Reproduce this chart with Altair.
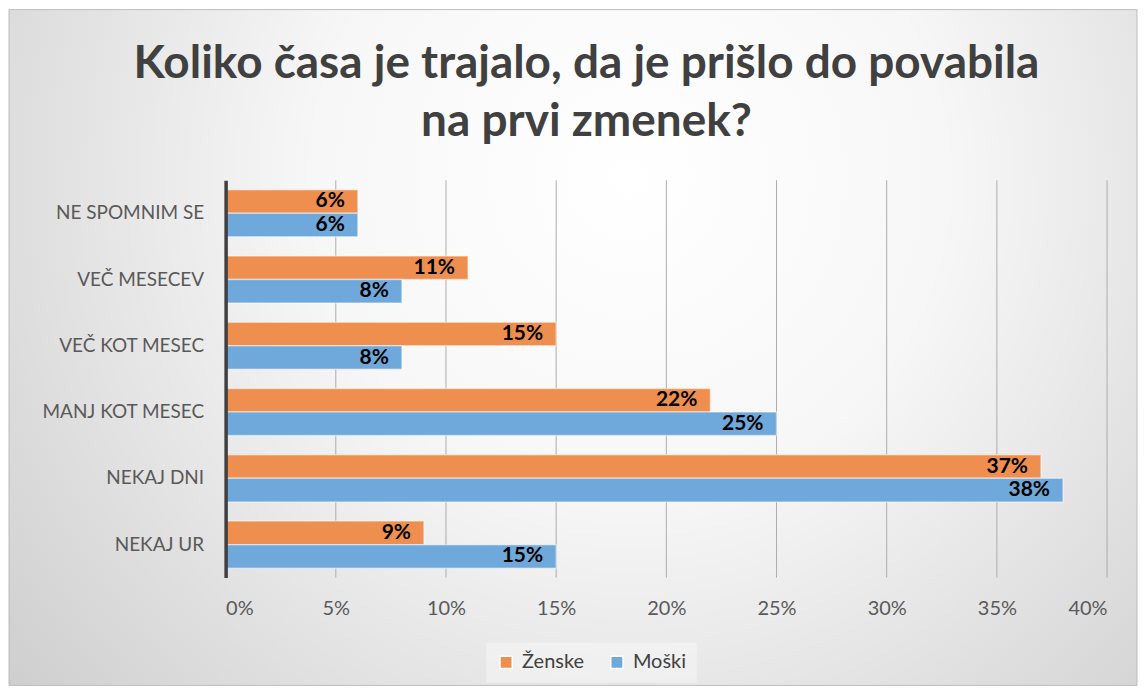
import altair as alt
import pandas as pd

categories = ["NE SPOMNIM SE", "VEČ MESECEV", "VEČ KOT MESEC", "MANJ KOT MESEC", "NEKAJ DNI", "NEKAJ UR"]
series = ["Ženske", "Moški"]
zenske = [6, 11, 15, 22, 37, 9]
moski = [6, 8, 8, 25, 38, 15]
x_ticks = [0, 5, 10, 15, 20, 25, 30, 35, 40]
colors = ["#EF8F4F", "#6FA8DA"]

rows = []
for i, c in enumerate(categories):
    rows.append({"cat": c, "series": series[0], "value": zenske[i]})
    rows.append({"cat": c, "series": series[1], "value": moski[i]})
df = pd.DataFrame(rows)

FONT = "Lato"
W, H = 883, 398

bg = alt.Chart(pd.DataFrame({"a": [0]})).mark_rect(
    fill={
        "gradient": "radial",
        "x1": 0.55, "y1": 0.35, "r1": 0,
        "x2": 0.55, "y2": 0.35, "r2": 0.8,
        "stops": [
            {"offset": 0, "color": "#FFFFFF"},
            {"offset": 0.35, "color": "#F7F7F7"},
            {"offset": 1, "color": "#C6C6C6"},
        ],
    },
    stroke="#BDBDBD",
    strokeWidth=1,
).encode(
    x=alt.value(-217), x2=alt.value(913),
    y=alt.value(-171), y2=alt.value(506),
)

grid = alt.Chart(pd.DataFrame({"t": x_ticks[1:]})).mark_rule(
    color="#ADADAD", strokeWidth=1
).encode(x=alt.X("t:Q", scale=alt.Scale(domain=[0, 40])))

base = alt.Chart(df).encode(
    y=alt.Y("cat:N", sort=categories,
            scale=alt.Scale(paddingInner=0.29, paddingOuter=0.142),
            axis=alt.Axis(title=None, labelFont=FONT, labelFontSize=19, labelColor="#595959",
                          ticks=False, domainColor="#404040", domainWidth=3.5,
                          labelPadding=22, zindex=1, grid=False)),
    yOffset=alt.YOffset("series:N", sort=series),
    x=alt.X("value:Q", scale=alt.Scale(domain=[0, 40]),
            axis=alt.Axis(title=None, values=x_ticks, labelExpr="datum.value + '%'",
                          labelFont=FONT, labelFontSize=20, labelColor="#595959",
                          ticks=False, domain=False, grid=False, labelPadding=21, zindex=1)),
)

bars = base.mark_bar(stroke="#FFFFFF", strokeOpacity=0.45, strokeWidth=1.5).encode(
    color=alt.Color("series:N", sort=series,
                    scale=alt.Scale(domain=series, range=colors),
                    legend=alt.Legend(title=None, orient="none", legendX=261, legendY=463,
                                      direction="horizontal", symbolType="square",
                                      symbolSize=150, labelFont=FONT, labelFontSize=20,
                                      labelColor="#404040", columnPadding=22, labelOffset=6,
                                      padding=10, fillColor="rgba(255,255,255,0.35)",
                                      zindex=1))
)

labels = base.mark_text(align="right", baseline="middle", dx=-13, font=FONT,
                        fontSize=21, fontWeight="bold", color="#000000").encode(
    text=alt.Text("label:N")
).transform_calculate(label="datum.value + '%'")

chart = alt.layer(bg, grid, bars, labels).properties(
    width=W, height=H, padding=0,
    title=alt.Title(["Koliko časa je trajalo, da je prišlo do povabila", "na prvi zmenek?"],
                    font=FONT, fontSize=46, fontWeight="bold", color="#404040",
                    lineHeight=58, anchor="middle", dx=-80, offset=-137, zindex=1),
).configure_view(stroke=None).configure(background="#FFFFFF")

chart.save("out.html", embed_options={"renderer": "svg", "actions": False})
